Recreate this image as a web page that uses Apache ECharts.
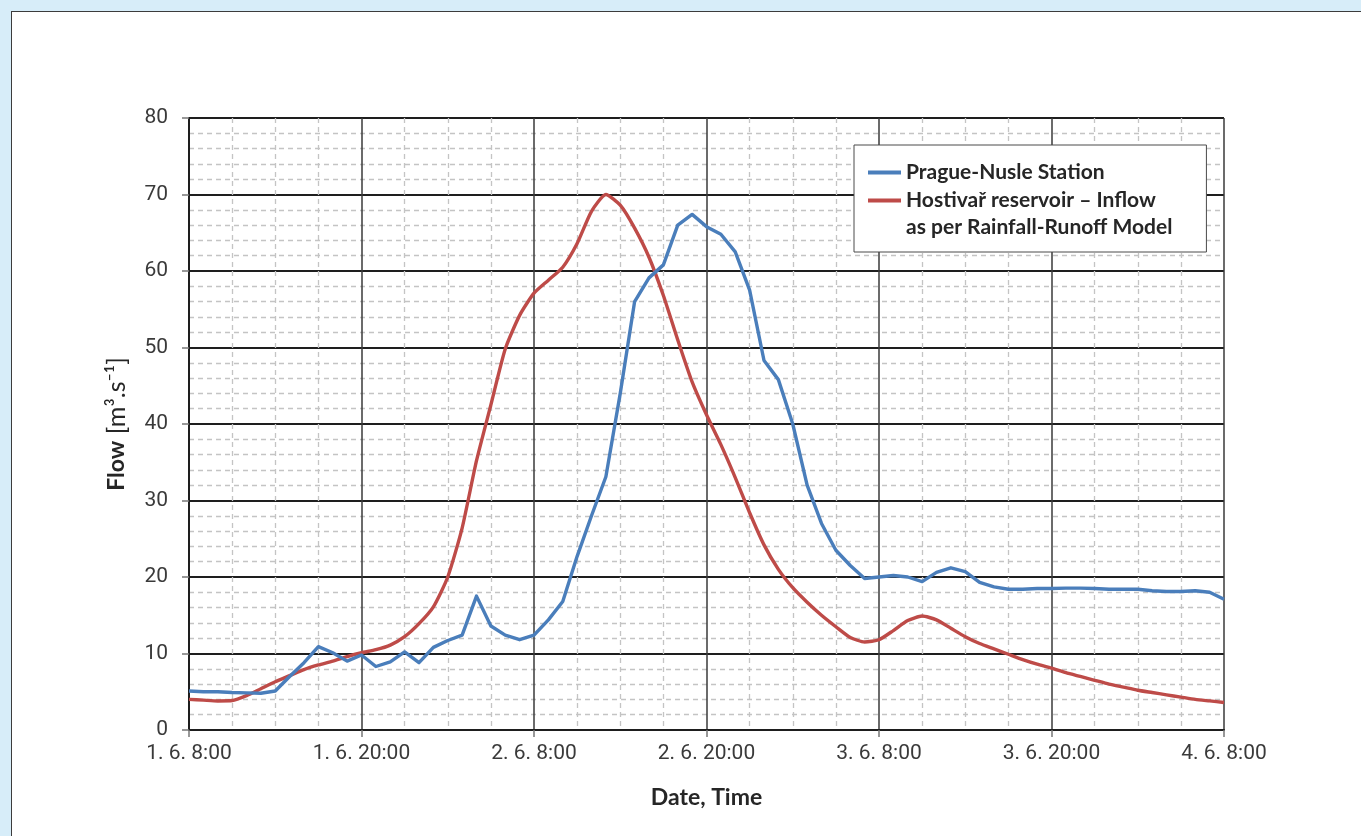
<!DOCTYPE html>
<html>
<head>
<meta charset="utf-8">
<title>Flow – Prague-Nusle Station and Hostivař reservoir inflow</title>
<script src="https://cdn.jsdelivr.net/npm/echarts@6/dist/echarts.min.js"></script>
<style>
  html, body { margin: 0; padding: 0; width: 1361px; height: 836px; overflow: hidden; background: #d7edf9; }
  #panel { position: absolute; left: 11px; top: 11px; width: 1400px; height: 900px; background: #ffffff; border: 1.5px solid #3c3c3c; }
  #chart { position: absolute; left: 0; top: 0; width: 1361px; height: 836px; }
</style>
</head>
<body>
<div id="panel"></div>
<div id="chart"></div>
<script>
// Hours elapsed since 1. 6. 8:00 (one reading per hour, three days)
const hours = Array.from({ length: 73 }, (_, i) => i);

// Tick labels every 12 hours
const timeLabels = ['1. 6. 8:00', '1. 6. 20:00', '2. 6. 8:00', '2. 6. 20:00', '3. 6. 8:00', '3. 6. 20:00', '4. 6. 8:00'];

// Measured flow at Prague-Nusle station [m3/s]
const pragueNusle = [
  5.1, 5.0, 5.0, 4.9, 4.85, 4.8, 5.1, 7.0, 8.8, 10.9, 10.1, 9.0,
  9.8, 8.3, 8.9, 10.2, 8.8, 10.8, 11.7, 12.4, 17.5, 13.6, 12.4, 11.8,
  12.4, 14.4, 16.8, 22.7, 28.0, 33.1, 44.0, 56.0, 59.1, 60.8, 66.0, 67.4,
  65.8, 64.8, 62.5, 57.5, 48.3, 45.8, 40.0, 32.0, 27.0, 23.5, 21.5, 19.8,
  20.0, 20.2, 20.0, 19.4, 20.6, 21.2, 20.7, 19.3, 18.7, 18.4, 18.4, 18.5,
  18.5, 18.55, 18.55, 18.5, 18.4, 18.4, 18.4, 18.2, 18.1, 18.1, 18.2, 18.0,
  17.1
];

// Modelled inflow into Hostivař reservoir (rainfall-runoff model) [m3/s]
const hostivarInflow = [
  4.0, 3.9, 3.8, 3.85, 4.5, 5.4, 6.3, 7.1, 7.9, 8.5, 9.0, 9.6,
  10.1, 10.5, 11.1, 12.2, 13.9, 16.1, 20.0, 26.4, 35.2, 42.5, 49.8, 54.2,
  57.1, 58.8, 60.5, 63.6, 67.8, 70.0, 68.6, 65.6, 61.8, 56.8, 51.0, 45.5,
  41.2, 37.3, 33.0, 28.4, 24.2, 21.0, 18.6, 16.7, 15.0, 13.5, 12.1, 11.5,
  11.8, 13.0, 14.3, 14.9, 14.4, 13.3, 12.2, 11.3, 10.6, 9.9, 9.2, 8.6,
  8.1, 7.5, 7.0, 6.5, 6.0, 5.6, 5.2, 4.9, 4.6, 4.3, 4.0, 3.8,
  3.6
];

const seriesNames = [
  'Prague-Nusle Station',
  'Hostivař reservoir – Inflow\nas per Rainfall-Runoff Model'
];

const tickFont = 'Roboto, "Liberation Sans", sans-serif';
const boldFont = 'Lato, "Open Sans", sans-serif';

const chart = echarts.init(document.getElementById('chart'), null, { renderer: 'canvas' });

chart.setOption({
  backgroundColor: 'transparent',
  animation: false,
  grid: { left: 189, top: 118, width: 1035, height: 612, containLabel: false },
  legend: {
    left: 854,
    top: 145,
    orient: 'vertical',
    backgroundColor: '#ffffff',
    borderColor: '#4a4a4a',
    borderWidth: 1,
    padding: [14, 34, 11, 14],
    itemGap: -26,
    icon: 'rect',
    itemWidth: 33,
    itemHeight: 4,
    selectedMode: false,
    data: seriesNames,
    formatter: name => (name.indexOf('\n') >= 0 ? ' \n' + name : name),
    textStyle: {
      fontFamily: boldFont,
      fontWeight: 'bold',
      fontSize: 21,
      lineHeight: 27,
      color: '#262626'
    }
  },
  xAxis: {
    type: 'value',
    min: 0,
    max: 72,
    interval: 12,
    name: 'Date, Time',
    nameLocation: 'middle',
    nameGap: 56,
    nameTextStyle: { fontFamily: boldFont, fontWeight: 'bold', fontSize: 23, color: '#262626' },
    axisLine: { show: true, onZero: false, lineStyle: { color: '#1e1e1e', width: 2 } },
    axisTick: { show: true, length: 7, lineStyle: { color: '#777', width: 1.5 } },
    axisLabel: {
      margin: 13,
      fontFamily: tickFont,
      fontSize: 21,
      color: '#3a3a3a',
      formatter: v => timeLabels[Math.round(v / 12)] || ''
    },
    splitLine: { show: true, lineStyle: { color: '#3a3a3a', width: 1.5 } },
    minorTick: { show: false, splitNumber: 4 },
    minorSplitLine: { show: true, lineStyle: { color: '#c4c4c4', width: 1.3, type: [5, 4] } }
  },
  yAxis: {
    type: 'value',
    min: 0,
    max: 80,
    interval: 10,
    name: '{b|Flow}  {n|[m³.s⁻¹]}',
    nameLocation: 'middle',
    nameGap: 60,
    nameRotate: 90,
    nameTextStyle: {
      rich: {
        b: { fontFamily: boldFont, fontWeight: 'bold', fontSize: 23, color: '#262626' },
        n: { fontFamily: boldFont, fontSize: 25, color: '#262626' }
      }
    },
    axisLine: { show: true, lineStyle: { color: '#1e1e1e', width: 2 } },
    axisTick: { show: true, length: 7, lineStyle: { color: '#777', width: 1.5 } },
    axisLabel: { margin: 21, fontFamily: tickFont, fontSize: 21, color: '#3a3a3a' },
    splitLine: { show: true, lineStyle: { color: '#1e1e1e', width: 2 } },
    minorTick: { show: false, splitNumber: 5 },
    minorSplitLine: { show: true, lineStyle: { color: '#c4c4c4', width: 1.3, type: [5, 4] } }
  },
  series: [
    {
      name: seriesNames[0],
      type: 'line',
      data: hours.map((h, i) => [h, pragueNusle[i]]),
      symbol: 'none',
      smooth: false,
      z: 3,
      lineStyle: { color: '#4a7ebb', width: 3.4, join: 'round' },
      itemStyle: { color: '#4a7ebb' }
    },
    {
      name: seriesNames[1],
      type: 'line',
      data: hours.map((h, i) => [h, hostivarInflow[i]]),
      symbol: 'none',
      smooth: 0.2,
      z: 2,
      lineStyle: { color: '#be4b48', width: 3.4, join: 'round' },
      itemStyle: { color: '#be4b48' }
    }
  ]
});
</script>
</body>
</html>
